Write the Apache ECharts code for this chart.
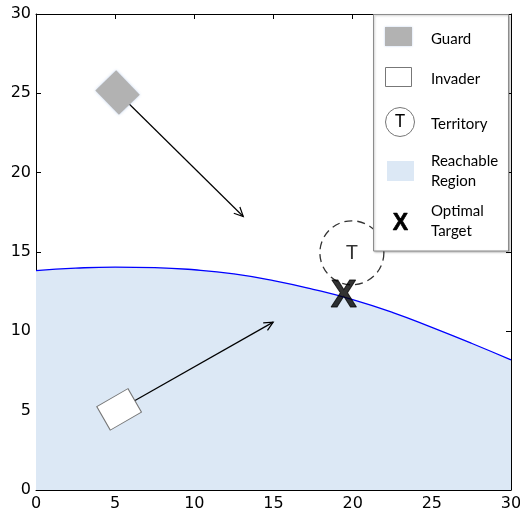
<!DOCTYPE html>
<html><head><meta charset="utf-8">
<script src="https://cdn.jsdelivr.net/npm/echarts@6/dist/echarts.min.js"></script>
<style>html,body{margin:0;padding:0;background:#fff}#c{width:520px;height:514px}</style>
</head><body><div id="c"></div>
<script>
// ---- data ----
const curveX = [0, 2.5, 5, 7.5, 10, 12.5, 15, 17.5, 20, 22.5, 25, 27.5, 30];
const curveY = [13.82, 13.98, 14.05, 14.02, 13.88, 13.62, 13.2, 12.65, 12.0, 11.2, 10.25, 9.25, 8.2];
const guardPos = [5.15, 25.05];
const invaderPos = [5.25, 5.08];
const territoryPos = [19.95, 14.95];
const targetPos = [19.44, 12.18];
const arrowStarts = [[5.15, 25.05], [5.25, 5.08]];
const arrowEnds = [[13.09, 17.24], [14.98, 10.58]];
const legendLabels = ['Guard', 'Invader', 'Territory', 'Reachable\nRegion', 'Optimal\nTarget'];
const axisMin = 0, axisMax = 30, axisStep = 5;

const chart = echarts.init(document.getElementById('c'), null, {renderer: 'canvas'});
const axisCommon = {
  type: 'value', min: axisMin, max: axisMax, interval: axisStep,
  axisLine: {show: true, onZero: false, lineStyle: {color: '#000', width: 1}},
  axisTick: {show: true, inside: true, length: 5, lineStyle: {color: '#000', width: 1}},
  splitLine: {show: false}
};
const lbl = {fontFamily: 'DejaVu Sans', fontSize: 16, color: '#000', showMaxLabel: true, showMinLabel: true, hideOverlap: false};

const arrowData = arrowStarts.map((s, i) => [s[0], s[1], arrowEnds[i][0], arrowEnds[i][1]]);
const legendFont = 'Lato';
const ly = [39, 79, 124, 171, 221];

chart.setOption({
  animation: false,
  grid: {left: 36, right: 9, top: 14, bottom: 24, containLabel: false, outerBoundsMode: 'none'},
  xAxis: [
    Object.assign({}, axisCommon, {position: 'bottom', axisLabel: Object.assign({}, lbl, {margin: 6})}),
    Object.assign({}, axisCommon, {position: 'top', axisLabel: {show: false}})
  ],
  yAxis: [
    Object.assign({}, axisCommon, {position: 'left', axisLabel: Object.assign({}, lbl, {margin: 5})}),
    Object.assign({}, axisCommon, {position: 'right', axisLabel: {show: false}})
  ],
  series: [
    {
      type: 'line', smooth: true, showSymbol: false, z: 1,
      data: curveX.map((x, i) => [x, curveY[i]]),
      lineStyle: {color: '#0000ff', width: 1.3},
      areaStyle: {color: '#dce8f5', opacity: 1, origin: 'start'}
    },
    {
      type: 'custom', z: 3,
      data: arrowData,
      encode: {x: [0, 2], y: [1, 3]},
      renderItem: function (params, api) {
        const p0 = api.coord([api.value(0), api.value(1)]);
        const p1 = api.coord([api.value(2), api.value(3)]);
        const ang = Math.atan2(p1[1] - p0[1], p1[0] - p0[0]);
        const L = 10, a = 0.45;
        const w1 = [p1[0] - L * Math.cos(ang - a), p1[1] - L * Math.sin(ang - a)];
        const w2 = [p1[0] - L * Math.cos(ang + a), p1[1] - L * Math.sin(ang + a)];
        return {
          type: 'group',
          children: [
            {type: 'line', shape: {x1: p0[0], y1: p0[1], x2: p1[0], y2: p1[1]}, style: {stroke: '#000', lineWidth: 1.2}},
            {type: 'polyline', shape: {points: [w1, p1, w2]}, style: {stroke: '#000', lineWidth: 1.2, fill: null}}
          ]
        };
      }
    },
    {
      type: 'scatter', z: 4, symbol: 'rect', symbolSize: [34, 29], symbolRotate: -46,
      data: [guardPos],
      itemStyle: {color: '#b2b2b2', opacity: 1, shadowBlur: 3, shadowColor: 'rgba(120,160,220,0.45)'}
    },
    {
      type: 'scatter', z: 4, symbol: 'rect', symbolSize: [36, 27], symbolRotate: 30,
      data: [invaderPos],
      itemStyle: {color: '#ffffff', opacity: 1, borderColor: '#777', borderWidth: 1}
    },
    {
      type: 'scatter', z: 4, symbol: 'circle', symbolSize: 64,
      data: [territoryPos],
      itemStyle: {color: 'rgba(0,0,0,0)', borderColor: '#000', borderWidth: 1.3, borderType: [8, 5]},
      label: {show: true, position: 'inside', formatter: 'T', fontFamily: legendFont, fontSize: 20, color: '#000'}
    },
    {
      type: 'scatter', z: 5, symbol: 'circle', symbolSize: 1,
      data: [targetPos],
      itemStyle: {color: 'rgba(0,0,0,0)'},
      label: {show: true, position: 'inside', formatter: 'X', fontFamily: 'Liberation Sans', fontWeight: 'bold', fontSize: 39, color: '#000',
              textBorderColor: '#000', textBorderWidth: 1}
    }
  ],
  graphic: [
    {type: 'rect', z: 100, shape: {x: 373.5, y: 14.5, width: 135, height: 236.5},
     style: {fill: '#fff', stroke: '#8c8c8c', lineWidth: 1, shadowBlur: 2, shadowOffsetX: 1, shadowOffsetY: 1, shadowColor: 'rgba(0,0,0,0.25)'}},
    {type: 'rect', z: 101, shape: {x: 385, y: 27, width: 27, height: 19}, style: {fill: '#b2b2b2', shadowBlur: 2, shadowColor: 'rgba(120,160,220,0.45)'}},
    {type: 'rect', z: 101, shape: {x: 385.5, y: 67.5, width: 26, height: 19}, style: {fill: '#fff', stroke: '#777', lineWidth: 1}},
    {type: 'circle', z: 101, shape: {cx: 400, cy: 122, r: 14.5}, style: {fill: '#fff', stroke: '#777', lineWidth: 1}},
    {type: 'text', z: 102, x: 400, y: 122, style: {text: 'T', fontFamily: legendFont, fontSize: 17, fill: '#000', align: 'center', verticalAlign: 'middle'}},
    {type: 'rect', z: 101, shape: {x: 387, y: 161, width: 27, height: 20}, style: {fill: '#dce8f5'}},
    {type: 'text', z: 102, x: 400.5, y: 224, style: {text: 'X', fontFamily: 'Liberation Sans', fontWeight: 'bold', fontSize: 23, fill: '#000', stroke: '#000', lineWidth: 0.6, align: 'center', verticalAlign: 'middle'}}
  ].concat(legendLabels.map((t, i) => ({
    type: 'text', z: 102, x: 431, y: ly[i],
    style: {text: t, fontFamily: legendFont, fontSize: 15, lineHeight: 20, fill: '#000', align: 'left', verticalAlign: 'middle'}
  })))
});
</script></body></html>
